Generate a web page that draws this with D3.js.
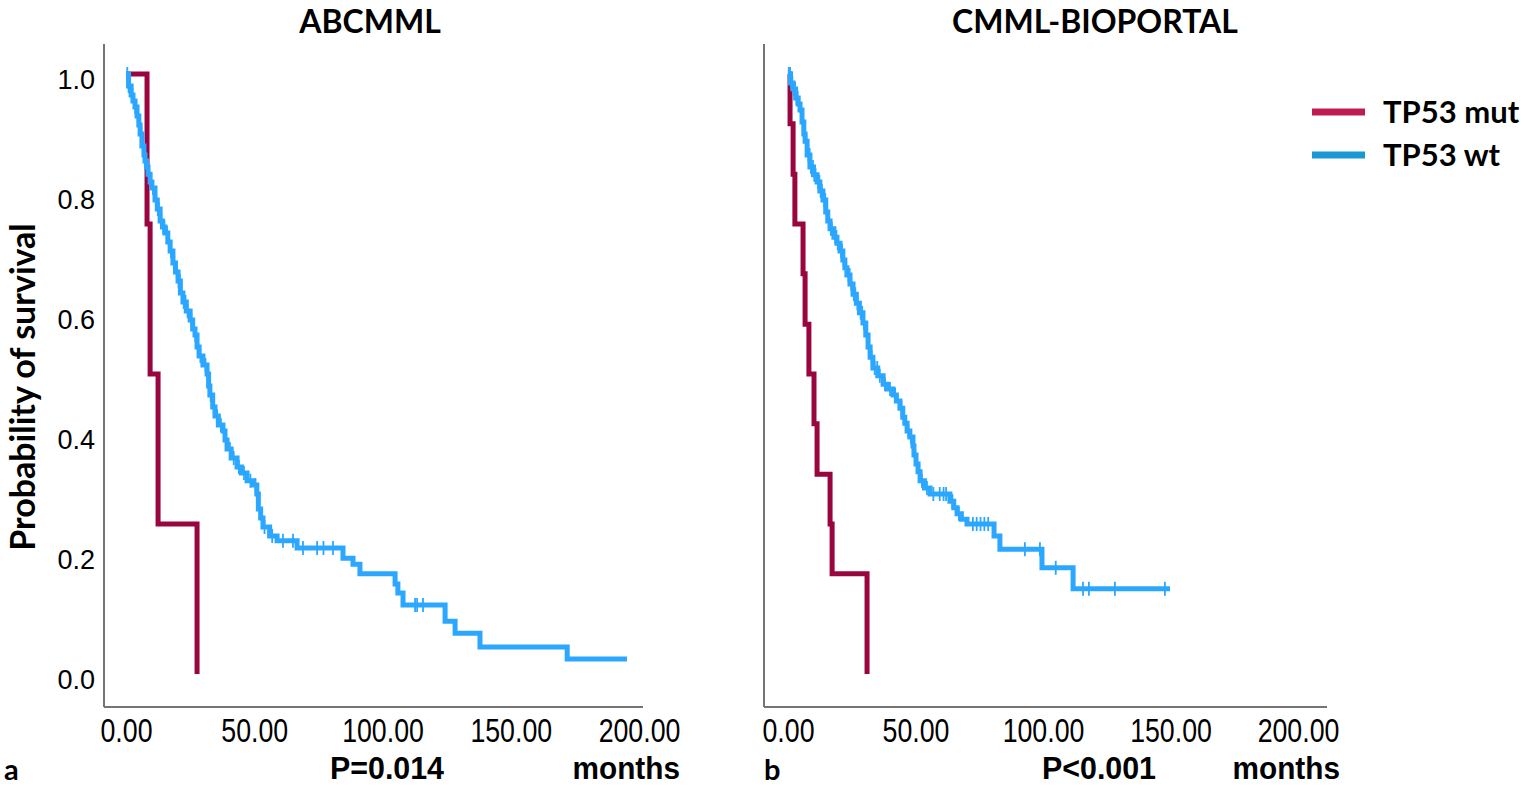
<!DOCTYPE html>
<html>
<head>
<meta charset="utf-8">
<script src="https://cdn.jsdelivr.net/npm/d3@7"></script>
<style>
  body { margin: 0; background: #fff; }
  svg { display: block; }
  .tick text { fill: #000; }
</style>
</head>
<body>
<svg id="km" width="1524" height="786"></svg>
<script>
// Kaplan-Meier step values (months, survival)
const abcRedTimes  = [0, 8.2, 9.4, 12.5, 27.7];
const abcRedSurv   = [1, 0.75, 0.5, 0.25, 0];

const abcBlueTimes = [0, 1.0, 2.0, 2.7, 3.5, 4.3, 5.0, 5.5, 6.2, 7.0, 7.4, 8.0, 8.6, 9.4, 10.1, 11.3, 12.2, 13.3,
  14.2, 15.2, 16.3, 17.2, 18.3, 19.3, 20.3, 21.2, 22.2, 23.5, 25.0, 26.0, 26.9, 27.7, 28.5, 30.0, 31.6, 32.2,
  32.7, 33.8, 34.7, 36.0, 37.8, 38.6, 39.4, 41.0, 43.3, 45.0, 47.2, 49.5, 51.0, 51.6, 52.5, 53.4, 56.0, 58.9,
  66.7, 84.6, 88.5, 91.2, 104.9, 106.0, 108.0, 124.4, 128.3, 138.0, 172.0, 195.3];
const abcBlueSurv  = [1, 0.98, 0.965, 0.955, 0.945, 0.93, 0.915, 0.90, 0.88, 0.865, 0.855, 0.845, 0.833, 0.82, 0.81, 0.79, 0.775, 0.755,
  0.745, 0.735, 0.72, 0.705, 0.685, 0.67, 0.655, 0.635, 0.62, 0.605, 0.59, 0.575, 0.565, 0.545, 0.53, 0.515, 0.50, 0.48,
  0.465, 0.445, 0.43, 0.415, 0.405, 0.39, 0.375, 0.36, 0.345, 0.335, 0.322, 0.315, 0.30, 0.275, 0.26, 0.245, 0.23, 0.222,
  0.21, 0.193, 0.183, 0.167, 0.15, 0.135, 0.115, 0.088, 0.068, 0.045, 0.025, 0.025];
const abcCensored  = [0.5, 1.0, 1.5, 2.5, 3.2, 3.6, 4.0, 4.6, 5.2, 6.0, 6.6, 7.2, 8.3, 9.0, 9.8, 10.5, 11.8, 12.4, 12.8,
  13.8, 14.5, 15.0, 16.0, 16.8, 17.5, 18.8, 19.8, 20.5, 21.0, 22.5, 23.2, 24.0, 25.5, 27.0, 28.0, 29.0, 31.0, 33.0,
  34.2, 35.5, 37.0, 39.0, 40.5, 42.0, 44.0, 46.0, 48.5, 50.5, 54.0, 57.0, 61.2, 65.1, 69.0, 74.5, 77.0, 80.7, 112.7,
  113.5, 115.8];

const bioRedTimes  = [0, 0.8, 2.0, 2.7, 5.9, 6.7, 8.2, 10.2, 11.4, 16.5, 17.3, 31.0];
const bioRedSurv   = [1, 0.917, 0.833, 0.75, 0.667, 0.583, 0.5, 0.417, 0.333, 0.25, 0.167, 0];

const bioBlueTimes = [0, 1.0, 2.0, 3.0, 4.0, 4.7, 5.5, 6.2, 6.7, 7.5, 8.6, 10.0, 11.4, 12.5, 13.7, 14.8, 15.6, 16.5,
  18.0, 19.2, 20.4, 21.5, 22.3, 23.1, 24.3, 25.5, 26.8, 28.0, 29.4, 30.5, 31.4, 32.2, 33.3, 35.2, 37.3, 39.0, 41.2,
  42.5, 43.9, 45.0, 45.8, 46.7, 47.8, 49.0, 49.4, 50.2, 51.0, 51.8, 53.5, 55.7, 63.5, 65.0, 66.3, 68.0, 70.2, 80.8,
  83.1, 99.6, 111.8, 149.8];
const bioBlueSurv  = [1, 0.985, 0.975, 0.96, 0.95, 0.94, 0.92, 0.90, 0.888, 0.865, 0.845, 0.832, 0.82, 0.805, 0.79, 0.77, 0.755, 0.742,
  0.728, 0.718, 0.705, 0.69, 0.677, 0.665, 0.65, 0.633, 0.618, 0.602, 0.585, 0.565, 0.545, 0.528, 0.51, 0.497, 0.483, 0.475, 0.465,
  0.455, 0.443, 0.428, 0.418, 0.405, 0.395, 0.38, 0.365, 0.35, 0.337, 0.322, 0.31, 0.30, 0.288, 0.277, 0.267, 0.258, 0.25, 0.23,
  0.208, 0.177, 0.142, 0.142];
const bioCensored  = [0.3, 0.8, 1.2, 1.7, 2.2, 2.8, 3.3, 3.8, 4.3, 5.2, 5.8, 6.5, 7.2, 8.0, 8.5, 9.0, 9.8, 10.3, 10.8,
  11.8, 12.3, 12.8, 13.3, 14.2, 14.6, 15.2, 16.0, 16.8, 17.2, 18.5, 19.0, 19.5, 20.8, 21.2, 21.8, 22.8, 23.7, 24.2,
  24.8, 25.8, 26.4, 27.2, 28.5, 29.1, 29.8, 31.0, 32.8, 34.0, 35.0, 36.0, 38.0, 40.0, 42.0, 44.5, 47.2, 48.2, 50.6,
  52.5, 54.5, 57.0, 59.5, 61.0, 62.0, 64.5, 67.0, 72.5, 74.0, 75.5, 77.0, 78.5, 92.9, 98.8, 105.0, 115.7, 118.0,
  128.2, 147.8];

const xTicks = [0, 50, 100, 150, 200];
const yTicks = [0, 0.2, 0.4, 0.6, 0.8, 1.0];
const groups = ["TP53 mut", "TP53 wt"];
const curveColors  = ["#99063f", "#2ba7ff"];
const legendColors = ["#bf1c52", "#1a98d6"];

const svg = d3.select("#km");
const sans = "'Liberation Sans',Arial,sans-serif";
const humanist = "Lato,'Open Sans',sans-serif";

// condensed-looking text: Arial squeezed horizontally (no narrow face installed)
function narrowText(sel, x, y, anchor, size, weight, str, squeeze) {
  sel.append("g").attr("transform", `translate(${x},${y}) scale(${squeeze},1)`)
    .append("text").attr("text-anchor", anchor)
    .attr("font-family", sans).attr("font-weight", weight).attr("font-size", size)
    .text(str);
}

// Panel setup: axis frame, scales, curves
function drawPanel(p) {
  const g = svg.append("g");
  const x = d3.scaleLinear().domain([0, 200]).range([p.x0, p.x200]);
  const y = d3.scaleLinear().domain([0, 1]).range([674, 74]);

  // axis frame lines (no ticks, SPSS style)
  g.append("line").attr("x1", p.axisLeft).attr("x2", p.axisLeft).attr("y1", 44).attr("y2", 707)
    .attr("stroke", "#747474").attr("stroke-width", 2);
  g.append("line").attr("x1", p.axisLeft).attr("x2", p.axisRight).attr("y1", 707).attr("y2", 707)
    .attr("stroke", "#747474").attr("stroke-width", 2);

  // x tick labels
  const xAxis = g.append("g").attr("transform", "translate(0,707)")
    .call(d3.axisBottom(x).tickValues(xTicks).tickSize(0).tickPadding(12).tickFormat(d3.format(".2f")));
  xAxis.select(".domain").remove();
  xAxis.selectAll("text").attr("font-family", sans).attr("font-size", 33)
    .attr("transform", "scale(0.81,1)");

  if (p.showY) {
    const yAxis = g.append("g").attr("transform", `translate(${p.axisLeft},6)`)
      .call(d3.axisLeft(y).tickValues(yTicks).tickSize(0).tickPadding(9).tickFormat(d3.format(".1f")));
    yAxis.select(".domain").remove();
    yAxis.selectAll("text").attr("font-family", sans).attr("font-size", 27);
  }

  const line = d3.line().x(d => x(d[0])).y(d => y(d[1])).curve(d3.curveStepAfter);
  const survAt = (times, surv, t) => surv[d3.bisectRight(times, t) - 1];

  // red (mutant) first, blue drawn on top
  g.append("path").datum(d3.zip(p.redT, p.redS))
    .attr("d", line).attr("fill", "none").attr("stroke", curveColors[0]).attr("stroke-width", 5);
  g.append("path").datum(d3.zip(p.blueT, p.blueS))
    .attr("d", line).attr("fill", "none").attr("stroke", curveColors[1]).attr("stroke-width", 5);

  // censor marks
  g.selectAll(".cens").data(p.cens).enter().append("line")
    .attr("class", "cens")
    .attr("x1", d => x(d)).attr("x2", d => x(d))
    .attr("y1", d => y(survAt(p.blueT, p.blueS, d)) - 7)
    .attr("y2", d => y(survAt(p.blueT, p.blueS, d)) + 7)
    .attr("stroke", curveColors[1]).attr("stroke-width", 1.8);

  // title
  svg.append("text").attr("x", p.titleX).attr("y", 33).attr("text-anchor", "middle")
    .attr("font-family", humanist).attr("font-weight", 700).attr("font-size", 32)
    .text(p.title);

  // bottom line: panel letter, p value, unit
  svg.append("text").attr("x", p.letterX).attr("y", 780)
    .attr("font-family", humanist).attr("font-weight", 700).attr("font-size", 29).text(p.letter);
  narrowText(svg, p.pX, 779, "middle", 31, 700, p.pval, 0.98);
  narrowText(svg, p.monthsX, 779, "end", 31, 700, "months", 0.96);
}

drawPanel({ x0: 126, x200: 639, axisLeft: 104, axisRight: 643, showY: true,
  redT: abcRedTimes, redS: abcRedSurv, blueT: abcBlueTimes, blueS: abcBlueSurv, cens: abcCensored,
  title: "ABCMML", titleX: 370, letter: "a", letterX: 4, pval: "P=0.014", pX: 387, monthsX: 680 });

drawPanel({ x0: 788, x200: 1298, axisLeft: 764, axisRight: 1327, showY: false,
  redT: bioRedTimes, redS: bioRedSurv, blueT: bioBlueTimes, blueS: bioBlueSurv, cens: bioCensored,
  title: "CMML-BIOPORTAL", titleX: 1095, letter: "b", letterX: 764, pval: "P<0.001", pX: 1099, monthsX: 1340 });

// y axis title
svg.append("text").attr("transform", "translate(35,387) rotate(-90)").attr("text-anchor", "middle")
  .attr("font-family", humanist).attr("font-weight", 700).attr("font-size", 34)
  .text("Probability of survival");

// legend
const legend = svg.append("g").selectAll("g").data(groups).enter().append("g")
  .attr("transform", (d, i) => `translate(1312,${112 + i * 43})`);
legend.append("line").attr("x1", 0).attr("x2", 53).attr("y1", 0).attr("y2", 0)
  .attr("stroke", (d, i) => legendColors[i]).attr("stroke-width", 7);
legend.append("text").attr("x", 71).attr("y", 0).attr("dy", "0.36em")
  .attr("font-family", humanist).attr("font-weight", 700).attr("font-size", 31)
  .text(d => d);
</script>
</body>
</html>
